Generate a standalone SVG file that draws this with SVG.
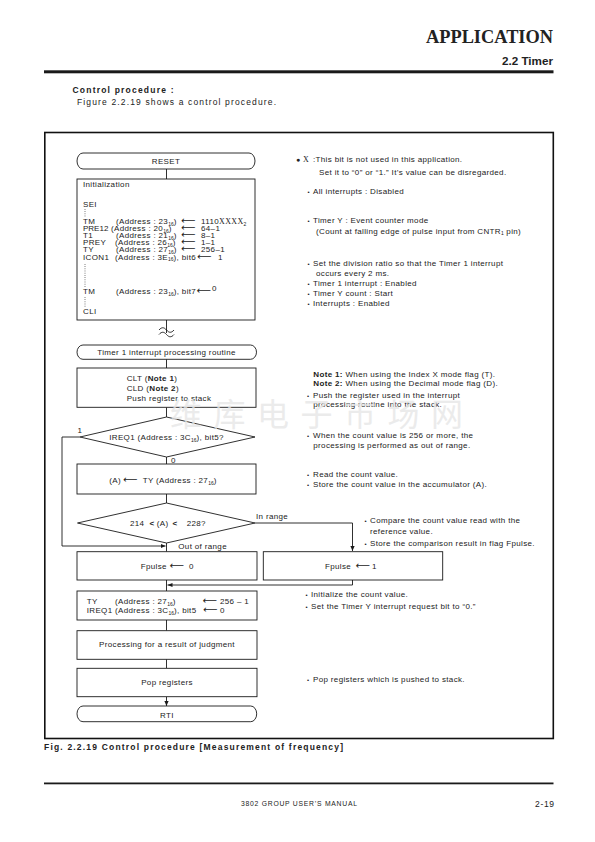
<svg xmlns="http://www.w3.org/2000/svg" width="595" height="842" viewBox="0 0 595 842">
<style>
text{font-family:"Liberation Sans",Arial,sans-serif;fill:#222}
.t{font-size:8px;letter-spacing:0.35px}
.c{text-anchor:middle}
.s{font-size:5px;letter-spacing:0}
.ar{font-family:"DejaVu Sans",sans-serif;font-size:10px;letter-spacing:0}
.sf{font-family:"Liberation Serif",serif}
.bd{font-weight:bold}
.b{font-size:6px}
.box{fill:#fff;stroke:#1a1a1a;stroke-width:0.9}
.ln{fill:none;stroke:#1a1a1a;stroke-width:0.9}
.dots{stroke:#333;stroke-width:0.8;stroke-dasharray:0.8 1.4}
</style>
<defs>
<marker id="ah" markerWidth="6" markerHeight="6" refX="5" refY="3" orient="auto" markerUnits="userSpaceOnUse">
<path d="M0,0.9 L5,3 L0,5.1 z" fill="#1a1a1a"/>
</marker>
</defs>
<rect width="595" height="842" fill="#fff"/>

<g id="header">
<text x="426" y="42.7" class="sf bd" font-size="19.5" textLength="127" lengthAdjust="spacingAndGlyphs" style="font-family:'Liberation Serif',serif">APPLICATION</text>
<text x="502" y="65" class="bd" font-size="10.5" textLength="51" lengthAdjust="spacingAndGlyphs">2.2 Timer</text>
<rect x="44" y="70.3" width="509.5" height="3" fill="#1a1a1a"/>
<text x="72.5" y="92.5" class="bd" font-size="8.5" textLength="101" lengthAdjust="spacing">Control procedure :</text>
<text x="77" y="105" font-size="8.5" textLength="199" lengthAdjust="spacing">Figure 2.2.19 shows a control procedure.</text>
</g>

<rect id="frame" x="44.8" y="132.5" width="508.5" height="606" fill="none" stroke="#111" stroke-width="1.6"/>

<g id="connectors">
<line class="ln" x1="166.5" y1="169" x2="166.5" y2="179"/>
<line class="ln" x1="166.5" y1="320" x2="166.5" y2="333"/>
<path class="ln" stroke-width="1.3" d="M159,330 c2.5,-3 5,-3 7.5,0 s5,3 7.5,0"/>
<path class="ln" stroke-width="1.3" d="M159,334.5 c2.5,-3 5,-3 7.5,0 s5,3 7.5,0"/>
<line class="ln" x1="166.5" y1="359.3" x2="166.5" y2="368"/>
<line class="ln" x1="166.5" y1="407.3" x2="166.5" y2="417"/>
<line class="ln" x1="166.5" y1="457" x2="166.5" y2="464"/>
<polyline class="ln" points="80,437 62,437 62,546 165.5,546" marker-end="url(#ah)"/>
<line class="ln" x1="166.5" y1="494" x2="166.5" y2="503"/>
<polyline class="ln" points="255,523 352.5,523 352.5,551" marker-end="url(#ah)"/>
<line class="ln" x1="166.5" y1="543" x2="166.5" y2="551.7"/>
<line class="ln" x1="166.5" y1="580" x2="166.5" y2="591"/>
<polyline class="ln" points="352.5,580 352.5,585 167.5,585" marker-end="url(#ah)"/>
<line class="ln" x1="166.5" y1="620" x2="166.5" y2="630.7"/>
<line class="ln" x1="166.5" y1="659.3" x2="166.5" y2="668.3"/>
<line class="ln" x1="166.5" y1="696.7" x2="166.5" y2="706" marker-end="url(#ah)"/>
<text class="t" x="77.5" y="433">1</text>
<text class="t" x="171" y="463">0</text>
<text class="t" x="256" y="519">In range</text>
<text class="t" x="178.3" y="548.5">Out of range</text>
</g>

<g id="node-reset">
<rect class="box" x="77" y="153" width="178" height="16" rx="6" ry="8"/>
<text class="t c" x="166" y="163.7">RESET</text>
</g>

<g id="node-init">
<rect class="box" x="77" y="179" width="178" height="141"/>
<text class="t" x="83" y="187">Initialization</text>
<text class="t" x="83" y="207">SEI</text>
<line class="dots" x1="85" y1="209" x2="85" y2="217"/>
<text class="t" y="224"><tspan x="83">TM</tspan><tspan x="116">(Address : 23</tspan><tspan class="s" dy="1.5">16</tspan><tspan dy="-1.5">)</tspan><tspan class="ar" x="181">⟵</tspan><tspan x="201">1110</tspan><tspan class="sf">XXXX</tspan><tspan class="s" dy="1.5">2</tspan></text>
<text class="t" y="231.1"><tspan x="83" style="letter-spacing:0">PRE12</tspan><tspan x="111">(Address : 20</tspan><tspan class="s" dy="1.5">16</tspan><tspan dy="-1.5">)</tspan><tspan class="ar" x="181">⟵</tspan><tspan x="201">64–1</tspan></text>
<text class="t" y="238.2"><tspan x="83">T1</tspan><tspan x="116">(Address : 21</tspan><tspan class="s" dy="1.5">16</tspan><tspan dy="-1.5">)</tspan><tspan class="ar" x="181">⟵</tspan><tspan x="201">8–1</tspan></text>
<text class="t" y="245.3"><tspan x="83">PREY</tspan><tspan x="115">(Address : 26</tspan><tspan class="s" dy="1.5">16</tspan><tspan dy="-1.5">)</tspan><tspan class="ar" x="181">⟵</tspan><tspan x="201">1–1</tspan></text>
<text class="t" y="252.4"><tspan x="83">TY</tspan><tspan x="116">(Address : 27</tspan><tspan class="s" dy="1.5">16</tspan><tspan dy="-1.5">)</tspan><tspan class="ar" x="181">⟵</tspan><tspan x="201">256–1</tspan></text>
<text class="t" y="259.5"><tspan x="83">ICON1</tspan><tspan x="115">(Address : 3E</tspan><tspan class="s" dy="1.5">16</tspan><tspan dy="-1.5">), bit6</tspan><tspan class="ar" x="197">⟵</tspan><tspan x="218">1</tspan></text>
<line class="dots" x1="85" y1="264" x2="85" y2="287"/>
<text class="t" y="294"><tspan x="83">TM</tspan><tspan x="116">(Address : 23</tspan><tspan class="s" dy="1.5">16</tspan><tspan dy="-1.5">), bit7</tspan><tspan class="ar" x="196.5">⟵</tspan><tspan x="212" dy="-3.5">0</tspan></text>
<line class="dots" x1="85" y1="297" x2="85" y2="307"/>
<text class="t" x="83" y="314">CLI</text>
</g>

<g id="notes-init">
<text class="t" y="161.7"><tspan x="296" style="font-size:7px">●</tspan><tspan x="303" class="sf">X</tspan><tspan x="313">:This bit is not used in this application.</tspan></text>
<text class="t" x="319" y="175">Set it to “0” or “1.” It’s value can be disregarded.</text>
<text class="t" y="194"><tspan class="b" x="307.5">•</tspan><tspan x="313">All interrupts : Disabled</tspan></text>
<text class="t" y="223.3"><tspan class="b" x="307.5">•</tspan><tspan x="313">Timer Y : Event counter mode</tspan></text>
<text class="t" x="316" y="233.5">(Count at falling edge of pulse input from CNTR<tspan class="s" dy="1.5">1</tspan><tspan dy="-1.5"> pin)</tspan></text>
<text class="t" y="266"><tspan class="b" x="307.5">•</tspan><tspan x="313">Set the division ratio so that the Timer 1 interrupt</tspan></text>
<text class="t" x="316" y="275.5">occurs every 2 ms.</text>
<text class="t" y="286"><tspan class="b" x="307.5">•</tspan><tspan x="313">Timer 1 interrupt : Enabled</tspan></text>
<text class="t" y="296"><tspan class="b" x="307.5">•</tspan><tspan x="313">Timer Y count : Start</tspan></text>
<text class="t" y="306"><tspan class="b" x="307.5">•</tspan><tspan x="313">Interrupts : Enabled</tspan></text>
</g>

<g id="node-timer1">
<rect class="box" x="77" y="345" width="179.5" height="14.3" rx="6" ry="7.15"/>
<text class="t c" x="166.5" y="355">Timer 1 interrupt processing routine</text>
</g>

<g id="node-clt">
<rect class="box" x="77" y="368" width="179" height="39.3"/>
<text class="t" x="126.7" y="380.7">CLT (<tspan class="bd">Note 1</tspan>)</text>
<text class="t" x="126.7" y="390.7">CLD (<tspan class="bd">Note 2</tspan>)</text>
<text class="t" x="126.7" y="401">Push register to stack</text>
</g>

<g id="notes-clt">
<text class="t" x="313.3" y="376.7"><tspan class="bd">Note 1:</tspan> When using the Index X mode flag (T).</text>
<text class="t" x="313.3" y="385.7"><tspan class="bd">Note 2:</tspan> When using the Decimal mode flag (D).</text>
<text class="t" y="397.7"><tspan class="b" x="307">•</tspan><tspan x="313">Push the register used in the interrupt</tspan></text>
<text class="t" x="313.3" y="407.3">processing routine into the stack.</text>
</g>

<g id="node-ireq1">
<polygon class="box" points="80,437 166.5,417 255,437 166.5,457"/>
<text class="t c" x="166.5" y="440">IREQ1 (Address : 3C<tspan class="s" dy="1.5">16</tspan><tspan dy="-1.5">), bit5?</tspan></text>
</g>

<g id="notes-ireq1">
<text class="t" y="438.3"><tspan class="b" x="307">•</tspan><tspan x="313">When the count value is 256 or more, the</tspan></text>
<text class="t" x="313.3" y="448.3">processing is performed as out of range.</text>
</g>

<g id="node-read">
<rect class="box" x="77" y="464" width="179" height="30"/>
<text class="t" y="483"><tspan x="109.3">(A)</tspan><tspan class="ar" x="123">⟵</tspan><tspan x="142.7">TY (Address : 27</tspan><tspan class="s" dy="1.5">16</tspan><tspan dy="-1.5">)</tspan></text>
</g>

<g id="notes-read">
<text class="t" y="476.7"><tspan class="b" x="307">•</tspan><tspan x="313">Read the count value.</tspan></text>
<text class="t" y="486.7"><tspan class="b" x="307">•</tspan><tspan x="313">Store the count value in the accumulator (A).</tspan></text>
</g>

<g id="node-compare">
<polygon class="box" points="77.5,523 166.5,503 255,523 166.5,543"/>
<text class="t" y="526"><tspan x="130">214</tspan><tspan x="149.5" class="bd">&lt;</tspan><tspan x="156.7">(A)</tspan><tspan x="172.5" class="bd">&lt;</tspan><tspan x="186.7">228?</tspan></text>
</g>

<g id="notes-compare">
<text class="t" y="523.3"><tspan class="b" x="364.5">•</tspan><tspan x="370">Compare the count value read with the</tspan></text>
<text class="t" x="370" y="534">reference value.</text>
<text class="t" y="545.7"><tspan class="b" x="364.5">•</tspan><tspan x="370">Store the comparison result in flag Fpulse.</tspan></text>
</g>

<g id="node-fpulse0">
<rect class="box" x="77" y="551.7" width="180" height="28.3"/>
<text class="t" y="569"><tspan x="140.7">Fpulse</tspan><tspan class="ar" x="169.5">⟵</tspan><tspan x="189">0</tspan></text>
</g>

<g id="node-fpulse1">
<rect class="box" x="263.3" y="551.7" width="179.4" height="28.3"/>
<text class="t" y="569"><tspan x="325">Fpulse</tspan><tspan class="ar" x="355.5">⟵</tspan><tspan x="372">1</tspan></text>
</g>

<g id="node-init-count">
<rect class="box" x="77" y="591" width="180" height="29"/>
<text class="t" y="604"><tspan x="86.7">TY</tspan><tspan x="115">(Address : 27</tspan><tspan class="s" dy="1.5">16</tspan><tspan dy="-1.5">)</tspan><tspan class="ar" x="202.5">⟵</tspan><tspan x="220">256 – 1</tspan></text>
<text class="t" y="613.3"><tspan x="86.7">IREQ1</tspan><tspan x="115">(Address : 3C</tspan><tspan class="s" dy="1.5">16</tspan><tspan dy="-1.5">), bit5</tspan><tspan class="ar" x="203">⟵</tspan><tspan x="220">0</tspan></text>
</g>

<g id="notes-init-count">
<text class="t" y="597.3"><tspan class="b" x="305.5">•</tspan><tspan x="311">Initialize the count value.</tspan></text>
<text class="t" y="608.5"><tspan class="b" x="305.5">•</tspan><tspan x="311">Set the Timer Y interrupt request bit to  “0.”</tspan></text>
</g>

<g id="node-judgment">
<rect class="box" x="77" y="630.7" width="180" height="28.6"/>
<text class="t c" x="167" y="647">Processing for a result of judgment</text>
</g>

<g id="node-pop">
<rect class="box" x="77" y="668.3" width="180" height="28.4"/>
<text class="t c" x="167" y="685">Pop registers</text>
</g>

<g id="notes-pop">
<text class="t" y="681.7"><tspan class="b" x="307">•</tspan><tspan x="313">Pop registers which is pushed to stack.</tspan></text>
</g>

<g id="node-rti">
<rect class="box" x="77" y="706" width="179.7" height="15.7" rx="6" ry="7.85"/>
<text class="t c" x="167" y="717.5">RTI</text>
</g>

<text id="watermark" x="170" y="426" font-size="32" letter-spacing="11.5" style="font-family:'Noto Sans CJK SC',sans-serif;fill:#e6e6e6;fill-opacity:0.8">维库电子市场网</text>

<g id="footer">
<text x="44" y="750" class="bd" font-size="8.5" textLength="299" lengthAdjust="spacing">Fig. 2.2.19 Control procedure [Measurement of frequency]</text>
<rect x="44" y="782.5" width="509.5" height="1.8" fill="#1a1a1a"/>
<text x="241" y="805.5" font-size="6.8" textLength="116" lengthAdjust="spacing">3802 GROUP USER’S MANUAL</text>
<text x="535" y="806.5" font-size="8.5" textLength="19" lengthAdjust="spacing">2-19</text>
</g>
</svg>
